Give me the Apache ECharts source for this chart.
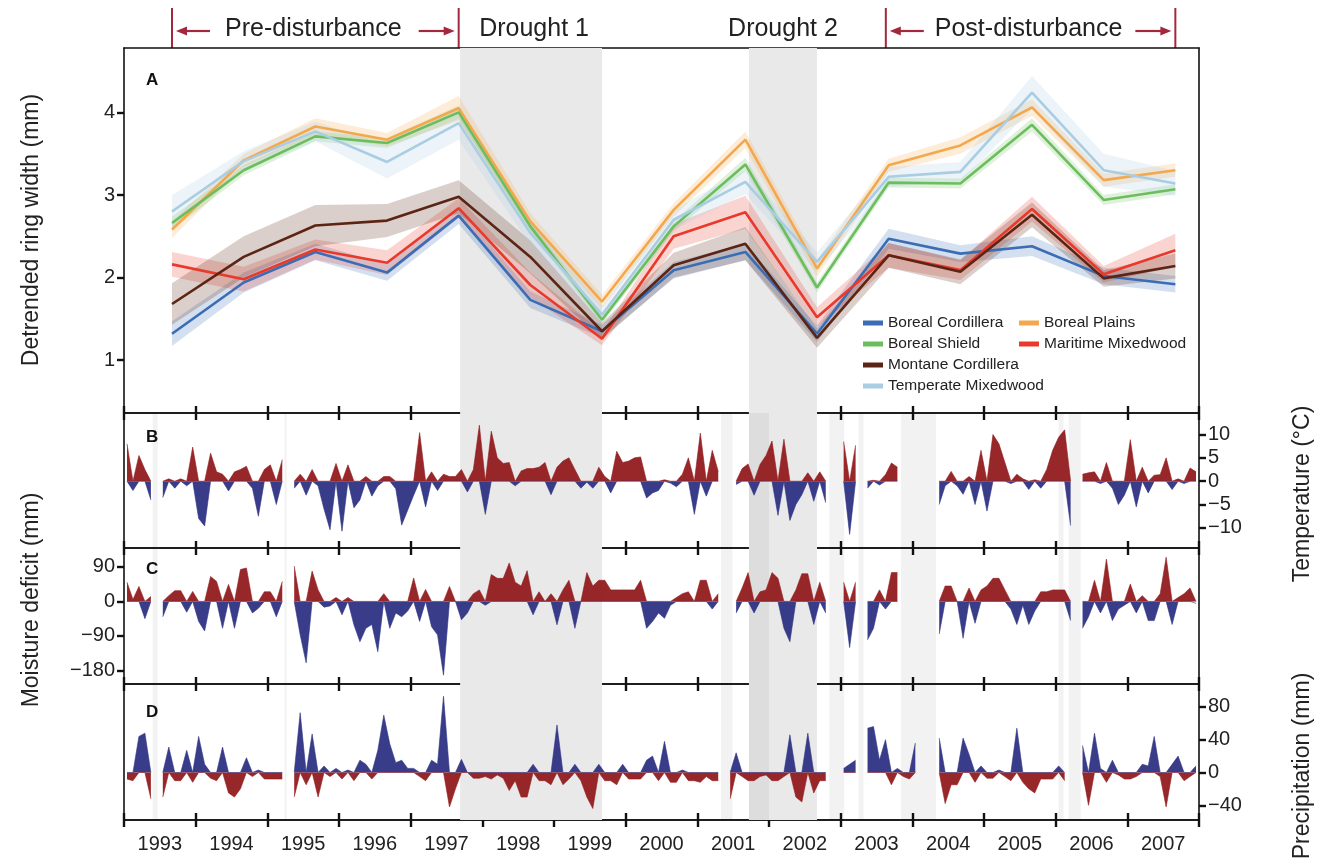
<!DOCTYPE html>
<html>
<head>
<meta charset="utf-8">
<script src="https://cdn.jsdelivr.net/npm/echarts@6/dist/echarts.min.js"></script>
<style>
  html, body { margin: 0; padding: 0; background: #fff; }
  #chart { width: 1321px; height: 864px; }
</style>
</head>
<body>
<div id="chart"></div>
<script>
const FONT = '"Liberation Sans", Arial, sans-serif'

// ---- panel A: detrended ring width, one value per year ----
const ringYears = [1993, 1994, 1995, 1996, 1997, 1998, 1999, 2000, 2001, 2002, 2003, 2004, 2005, 2006, 2007]
const yearLabels = ringYears.map(String)

const borealCordillera   = [1.32, 1.94, 2.31, 2.06, 2.75, 1.73, 1.35, 2.09, 2.31, 1.32, 2.47, 2.29, 2.38, 2.02, 1.92]
const borealPlains       = [2.58, 3.42, 3.83, 3.67, 4.05, 2.68, 1.71, 2.82, 3.67, 2.11, 3.36, 3.60, 4.06, 3.18, 3.30]
const borealShield       = [2.66, 3.30, 3.71, 3.63, 4.00, 2.62, 1.49, 2.62, 3.37, 1.88, 3.15, 3.14, 3.85, 2.94, 3.07]
const maritimeMixedwood  = [2.16, 1.98, 2.34, 2.18, 2.84, 1.91, 1.26, 2.50, 2.79, 1.52, 2.27, 2.09, 2.83, 2.04, 2.33]
const montaneCordillera  = [1.68, 2.25, 2.63, 2.69, 2.98, 2.25, 1.35, 2.15, 2.41, 1.27, 2.27, 2.07, 2.76, 1.99, 2.14]
const temperateMixedwood = [2.80, 3.41, 3.77, 3.40, 3.87, 2.54, 1.55, 2.70, 3.16, 2.19, 3.22, 3.28, 4.24, 3.30, 3.14]

// half width of the shaded band around each line
const errBC = [0.15, 0.12, 0.10, 0.10, 0.10, 0.10, 0.08, 0.10, 0.10, 0.10, 0.12, 0.10, 0.12, 0.10, 0.10]
const errBP = [0.10, 0.08, 0.10, 0.08, 0.15, 0.10, 0.08, 0.08, 0.10, 0.10, 0.08, 0.10, 0.10, 0.08, 0.08]
const errBS = [0.08, 0.06, 0.06, 0.06, 0.08, 0.06, 0.05, 0.06, 0.08, 0.06, 0.06, 0.06, 0.08, 0.06, 0.06]
const errMM = [0.15, 0.15, 0.12, 0.15, 0.12, 0.15, 0.08, 0.15, 0.20, 0.12, 0.15, 0.12, 0.15, 0.10, 0.20]
const errMC = [0.25, 0.25, 0.25, 0.20, 0.20, 0.20, 0.10, 0.15, 0.20, 0.12, 0.15, 0.15, 0.15, 0.10, 0.15]
const errTM = [0.20, 0.12, 0.12, 0.20, 0.20, 0.15, 0.10, 0.12, 0.15, 0.12, 0.12, 0.12, 0.20, 0.20, 0.15]

// ---- panels B-D: monthly anomalies, Jan 1993 .. Dec 2007 (null = no data) ----
const tempAnomaly = [
  8.0, -2.0, 5.5, 2.5, -4.0, null, -3.5, 0.5, -1.5, 0.5, -1.0, 7.3,      // 1993
  -8.0, -9.6, 6.0, 2.0, 1.5, -2.1, 2.0, 2.5, 3.2, -1.5, -7.5, 2.5,       // 1994
  3.5, -5.0, 4.6, null, -1.5, 1.5, -3.0, 2.5, -1.0, -6.0, -10.4, 3.8,    // 1995
  -10.7, 3.5, -5.7, -4.0, 1.0, -3.2, -1.0, 1.0, 1.0, -1.6, -9.4, -6.2,   // 1996
  -3.0, 10.4, -5.5, 2.0, -2.0, 1.5, 1.0, 1.0, 2.5, -2.3, 2.5, 12.0,      // 1997
  -7.1, 10.7, 5.0, 3.8, 4.0, -1.0, 2.2, 2.7, 2.7, 3.0, 4.0, -2.9,        // 1998
  3.0, 4.3, 5.0, 2.5, -1.5, -0.2, -1.5, 3.0, 1.0, -2.5, 6.4, 4.0,        // 1999
  4.3, 5.0, 5.2, -3.6, -2.5, -2.0, 0.3, -0.4, -1.2, 1.5, 5.0, -7.1,      // 2000
  10.3, -3.2, 6.6, 2.1, null, null, -0.7, 2.7, 3.7, -3.0, 3.6, 5.5,      // 2001
  8.6, -7.3, 9.0, -8.4, -5.0, -2.9, 1.8, -4.3, 2.0, -4.6, null, null,    // 2002
  8.5, -11.4, 7.7, null, -1.5, 0.2, -0.8, 1.4, 3.9, 3.0, null, null,     // 2003
  null, null, null, null, -5.0, -1.0, 2.1, -1.0, -2.8, 1.0, -5.0, 6.6,   // 2004
  -6.4, 10.0, 8.0, 4.0, -0.5, 1.5, 0.5, -1.8, 0.3, -1.5, 2.5, 6.6,       // 2005
  9.4, 11.0, -9.5, null, 1.5, 1.8, 2.0, -0.5, 4.0, -1.5, -5.0, -3.0,     // 2006
  8.9, -5.5, 3.0, -2.5, 1.3, 1.4, 5.0, -1.8, 0.5, -0.5, 2.8, 2.0         // 2007
]

const moistureDeficit = [
  50, 5, 39, -45, 13, null, -40, 15, 28, 28, -28, 26,           // 1993
  -52, -77, 65, 52, -70, 44, -70, 83, 87, -30, -18, 25,         // 1994
  25, -40, 52, null, 92, -87, -160, 79, 30, -15, -12, 10,       // 1995
  -35, 10, -61, -105, -70, -60, -131, 20, -70, -30, -40, -25,   // 1996
  61, -52, 31, -66, -87, -192, 39, 0, -48, -30, 20, 30,         // 1997
  -10, 70, 60, 60, 100, 50, 40, 80, -35, 25, 0, 20,             // 1998
  -61, 30, 55, -70, 0, 75, 40, 55, 55, 30, 30, 30,              // 1999
  30, 30, 55, -70, -52, -30, -44, -10, 10, 20, 25, 0,           // 2000
  55, 55, -20, 20, null, null, -30, 35, 75, -30, 25, 30,        // 2001
  75, 60, -70, -105, 30, 72, 72, -60, 50, -30, null, null,      // 2002
  50, -120, 50, null, -100, -70, 30, -20, 75, 75, null, null,   // 2003
  null, null, null, null, -85, 40, 40, 0, -96, 35, -57, 30,     // 2004
  40, 60, 60, 30, -20, -60, -10, -60, -25, 25, 25, 30,          // 2005
  30, 30, -50, null, -70, -40, 55, -30, 110, -50, -20, -10,     // 2006
  45, -30, 15, -50, -50, 20, 115, -60, 10, 20, 35, -5           // 2007
]

const precipAnomaly = [
  -8, -10, 44, 48, -32, null, -30, 31, -10, -10, 27, -12,       // 1993
  44, 10, -7, -10, 31, -25, -30, -20, 18, -5, 3, -8,            // 1994
  -8, -8, -8, null, -30, 73, -15, 47, -30, 8, -5, 5,            // 1995
  -8, 3, -10, 15, 10, -8, 27, 70, 35, 12, 15, 5,                // 1996
  5, -5, -10, 15, 10, 93, -42, -20, 16, 0, -7, -7,              // 1997
  -5, -8, -3, -7, -22, -10, -30, -30, 10, -10, -10, -15,        // 1998
  58, -15, -8, 10, -10, -30, -44, 10, -10, -10, -15, 10,        // 1999
  -8, -8, -8, 15, 20, -10, 38, -12, -12, 3, -10, -10,           // 2000
  -12, -5, -10, -10, null, -32, 24, -5, -10, -10, -5, -3,       // 2001
  -10, -10, -5, 46, -30, -36, 48, -25, -10, -10, null, null,    // 2002
  5, 10, 15, null, 54, 56, 15, 40, -15, 5, -5, -8,              // 2003
  36, null, null, null, 42, -38, -15, -15, 42, 22, -12, 8,      // 2004
  -7, -7, 3, -5, -10, 54, -12, -20, -25, -8, -8, -8,            // 2005
  8, -10, null, null, 33, -40, 48, 5, -12, 15, -3, -8,          // 2006
  -8, -5, 10, 8, 44, -5, -42, 10, 20, -10, -5, 8                // 2007
]

// periods (decimal years)
const droughtSpans = [[1997.69, 1999.67], [2001.72, 2002.67]]
const gapSpans = [[1993.40, 1993.47], [1995.24, 1995.27], [2001.33, 2001.49], [2001.72, 2002.00],
  [2002.84, 2003.05], [2003.25, 2003.32], [2003.84, 2004.33], [2006.04, 2006.11], [2006.18, 2006.35]]
const preDisturbance = [1993.67, 1997.67]
const postDisturbance = [2003.63, 2007.67]

const tempTicks = [-10, -5, 0, 5, 10]
const moistTicks = [-180, -90, 0, 90]
const precipTicks = [-40, 0, 40, 80]
const ringTicks = [1, 2, 3, 4]

// ---------------------------------------------------------------
const RED = '#921b1e'
const NAVY = '#2d3283'
const HEAD = '#a3283d'
const ringOffset = 0.67   // sampling point inside each year

const regions = [
  { name: 'Boreal Cordillera', mean: borealCordillera, err: errBC, color: '#3b6db5' },
  { name: 'Boreal Plains', mean: borealPlains, err: errBP, color: '#f4a84d' },
  { name: 'Boreal Shield', mean: borealShield, err: errBS, color: '#6cbd5d' },
  { name: 'Maritime Mixedwood', mean: maritimeMixedwood, err: errMM, color: '#e8392b' },
  { name: 'Montane Cordillera', mean: montaneCordillera, err: errMC, color: '#5b2414' },
  { name: 'Temperate Mixedwood', mean: temperateMixedwood, err: errTM, color: '#a9cde2' }
]

const monthX = i => 1993 + (i + 0.5) / 12
const minus = v => String(v).replace('-', '\u2212')

const chart = echarts.init(document.getElementById('chart'))

const gridTops = [48, 413, 548, 684]
const gridHeights = [365, 135, 136, 136]
const grid = gridTops.map((t, i) => ({ left: 124, right: 122, top: t, height: gridHeights[i] }))

const lineBlack = { color: '#111', width: 1.6 }
const tickStyle = { color: '#111', width: 2.4 }

function xValueAxis(g, pos, ticks) {
  return {
    type: 'value', gridIndex: g, position: pos, min: 1993, max: 2008, interval: 1,
    axisLine: { show: true, onZero: false, lineStyle: lineBlack },
    axisTick: { show: ticks, inside: true, length: 7, lineStyle: tickStyle },
    axisLabel: { show: false }, splitLine: { show: false }
  }
}

const xAxis = []
for (let g = 0; g < 4; g++) {
  xAxis.push(xValueAxis(g, 'bottom', true))
  xAxis.push(xValueAxis(g, 'top', g > 0))
}
xAxis.push({
  type: 'category', gridIndex: 3, position: 'bottom', data: yearLabels, boundaryGap: true,
  axisLine: { show: true, onZero: false, lineStyle: lineBlack },
  axisTick: { show: true, inside: false, length: 7, lineStyle: tickStyle },
  axisLabel: { fontSize: 20, color: '#222', fontFamily: FONT, margin: 14 }
})

function plainY(g, pos) {
  return {
    type: 'value', gridIndex: g, position: pos,
    axisLine: { show: true, onZero: false, lineStyle: lineBlack },
    axisTick: { show: false }, axisLabel: { show: false }, splitLine: { show: false }
  }
}
function labelY(g, pos, min, max, ticks) {
  return {
    type: 'value', gridIndex: g, position: pos, min, max,
    axisLine: { show: true, onZero: false, lineStyle: lineBlack },
    axisTick: { show: true, length: 7, lineStyle: tickStyle, customValues: ticks },
    axisLabel: { fontSize: 20, color: '#222', fontFamily: FONT, margin: 9, customValues: ticks, formatter: minus },
    splitLine: { show: false }
  }
}
const yAxis = [
  labelY(0, 'left', 0.36, 4.78, ringTicks), plainY(0, 'right'),
  plainY(1, 'left'), labelY(1, 'right', -14.3, 14.6, tempTicks),
  labelY(2, 'left', -215, 139, moistTicks), plainY(2, 'right'),
  plainY(3, 'left'), labelY(3, 'right', -58, 108, precipTicks)
]
const dataY = [0, 3, 4, 7]

const series = []

// shaded periods behind each panel
for (let g = 0; g < 4; g++) {
  const areas = droughtSpans.map(([a, b]) => [{ xAxis: a, itemStyle: { color: '#e9e9e9' } }, { xAxis: b }])
  if (g > 0) {
    gapSpans.forEach(([a, b]) => areas.push([{ xAxis: a, itemStyle: { color: 'rgba(0,0,0,0.05)' } }, { xAxis: b }]))
  }
  series.push({
    type: 'line', name: 'periods' + g, xAxisIndex: 2 * g, yAxisIndex: dataY[g], data: [],
    silent: true, z: 0,
    markArea: { silent: true, data: areas }
  })
}

// panel A: confidence bands (polygon through the axis scale) then lines
regions.forEach(r => {
  series.push({
    type: 'custom', name: r.name + ' band', xAxisIndex: 0, yAxisIndex: 0, silent: true, z: 1,
    data: [[ringYears[0] + ringOffset, r.mean[0]]],
    renderItem: (params, api) => {
      const upper = r.mean.map((m, i) => api.coord([ringYears[i] + ringOffset, m + r.err[i]]))
      const lower = r.mean.map((m, i) => api.coord([ringYears[i] + ringOffset, m - r.err[i]])).reverse()
      return { type: 'polygon', shape: { points: upper.concat(lower) }, style: { fill: r.color, opacity: 0.22 } }
    }
  })
})
regions.forEach(r => {
  series.push({
    type: 'line', name: r.name, xAxisIndex: 0, yAxisIndex: 0,
    data: r.mean.map((m, i) => [ringYears[i] + ringOffset, m]),
    symbol: 'none', lineStyle: { color: r.color, width: 2.6 }, itemStyle: { color: r.color }, z: 3
  })
})

// panels B-D: positive and negative parts as two filled series
function signedSeries(vals, g, upColor, downColor) {
  const pick = f => vals.map((v, i) => [monthX(i), v == null ? null : f(v, 0)])
  const base = { type: 'line', xAxisIndex: 2 * g, yAxisIndex: dataY[g], symbol: 'none', silent: true, z: 2 }
  series.push(Object.assign({}, base, {
    name: 'up' + g, data: pick(Math.max),
    lineStyle: { color: upColor, width: 0.6 }, areaStyle: { color: upColor, opacity: 0.95 }
  }))
  series.push(Object.assign({}, base, {
    name: 'down' + g, data: pick(Math.min),
    lineStyle: { color: downColor, width: 0.6 }, areaStyle: { color: downColor, opacity: 0.95 }
  }))
}
signedSeries(tempAnomaly, 1, RED, NAVY)
signedSeries(moistureDeficit, 2, RED, NAVY)
signedSeries(precipAnomaly, 3, NAVY, RED)

const legendBase = {
  orient: 'vertical', icon: 'rect', itemWidth: 20, itemHeight: 5, itemGap: 5,
  selectedMode: false, textStyle: { fontSize: 15.5, color: '#222', fontFamily: FONT }
}

chart.setOption({
  animation: false,
  backgroundColor: '#fff',
  textStyle: { fontFamily: FONT },
  grid,
  xAxis,
  yAxis,
  legend: [
    Object.assign({ left: 858, top: 310, data: ['Boreal Cordillera', 'Boreal Shield', 'Montane Cordillera', 'Temperate Mixedwood'] }, legendBase),
    Object.assign({ left: 1014, top: 310, data: ['Boreal Plains', 'Maritime Mixedwood'] }, legendBase)
  ],
  series
})

// ---- annotations placed from the axis scale ----
const px = v => chart.convertToPixel({ xAxisIndex: 0 }, v)
const graphics = []

function headText(text, x) {
  graphics.push({ type: 'text', x, y: 29, style: { text, fill: '#222', font: '25px ' + FONT, align: 'center', verticalAlign: 'middle' } })
}
function vbar(x) {
  graphics.push({ type: 'line', shape: { x1: x, y1: 8, x2: x, y2: 48 }, style: { stroke: HEAD, lineWidth: 2 } })
}
function arrow(from, to) {
  const dir = to > from ? 1 : -1
  graphics.push({ type: 'line', shape: { x1: from, y1: 31, x2: to - dir * 6, y2: 31 }, style: { stroke: HEAD, lineWidth: 2.2 } })
  graphics.push({ type: 'polygon', shape: { points: [[to, 31], [to - dir * 11, 26.5], [to - dir * 11, 35.5]] }, style: { fill: HEAD } })
}
function bracket(span, label) {
  const a = px(span[0]), b = px(span[1])
  vbar(a); vbar(b)
  arrow(a + 38, a + 4)
  arrow(b - 40, b - 4)
  headText(label, (a + b) / 2 - 2)
}
bracket(preDisturbance, 'Pre-disturbance')
bracket(postDisturbance, 'Post-disturbance')
headText('Drought 1', px((droughtSpans[0][0] + droughtSpans[0][1]) / 2) + 3)
headText('Drought 2', px((droughtSpans[1][0] + droughtSpans[1][1]) / 2))

// panel letters
const letters = ['A', 'B', 'C', 'D']
const letterY = [80, 437, 569, 712]
letters.forEach((l, i) => graphics.push({
  type: 'text', x: 146, y: letterY[i],
  style: { text: l, fill: '#111', font: 'bold 17px ' + FONT, verticalAlign: 'middle' }
}))

// axis titles
function vtitle(text, x, y) {
  graphics.push({
    type: 'text', x, y, rotation: Math.PI / 2,
    style: { text, fill: '#222', font: '23px ' + FONT, align: 'center', verticalAlign: 'middle' }
  })
}
vtitle('Detrended ring width (mm)', 32, 230)
vtitle('Moisture deficit (mm)', 32, 600)
vtitle('Temperature (°C)', 1303, 494)
vtitle('Precipitation (mm)', 1303, 766)

chart.setOption({ graphic: graphics })
</script>
</body>
</html>
